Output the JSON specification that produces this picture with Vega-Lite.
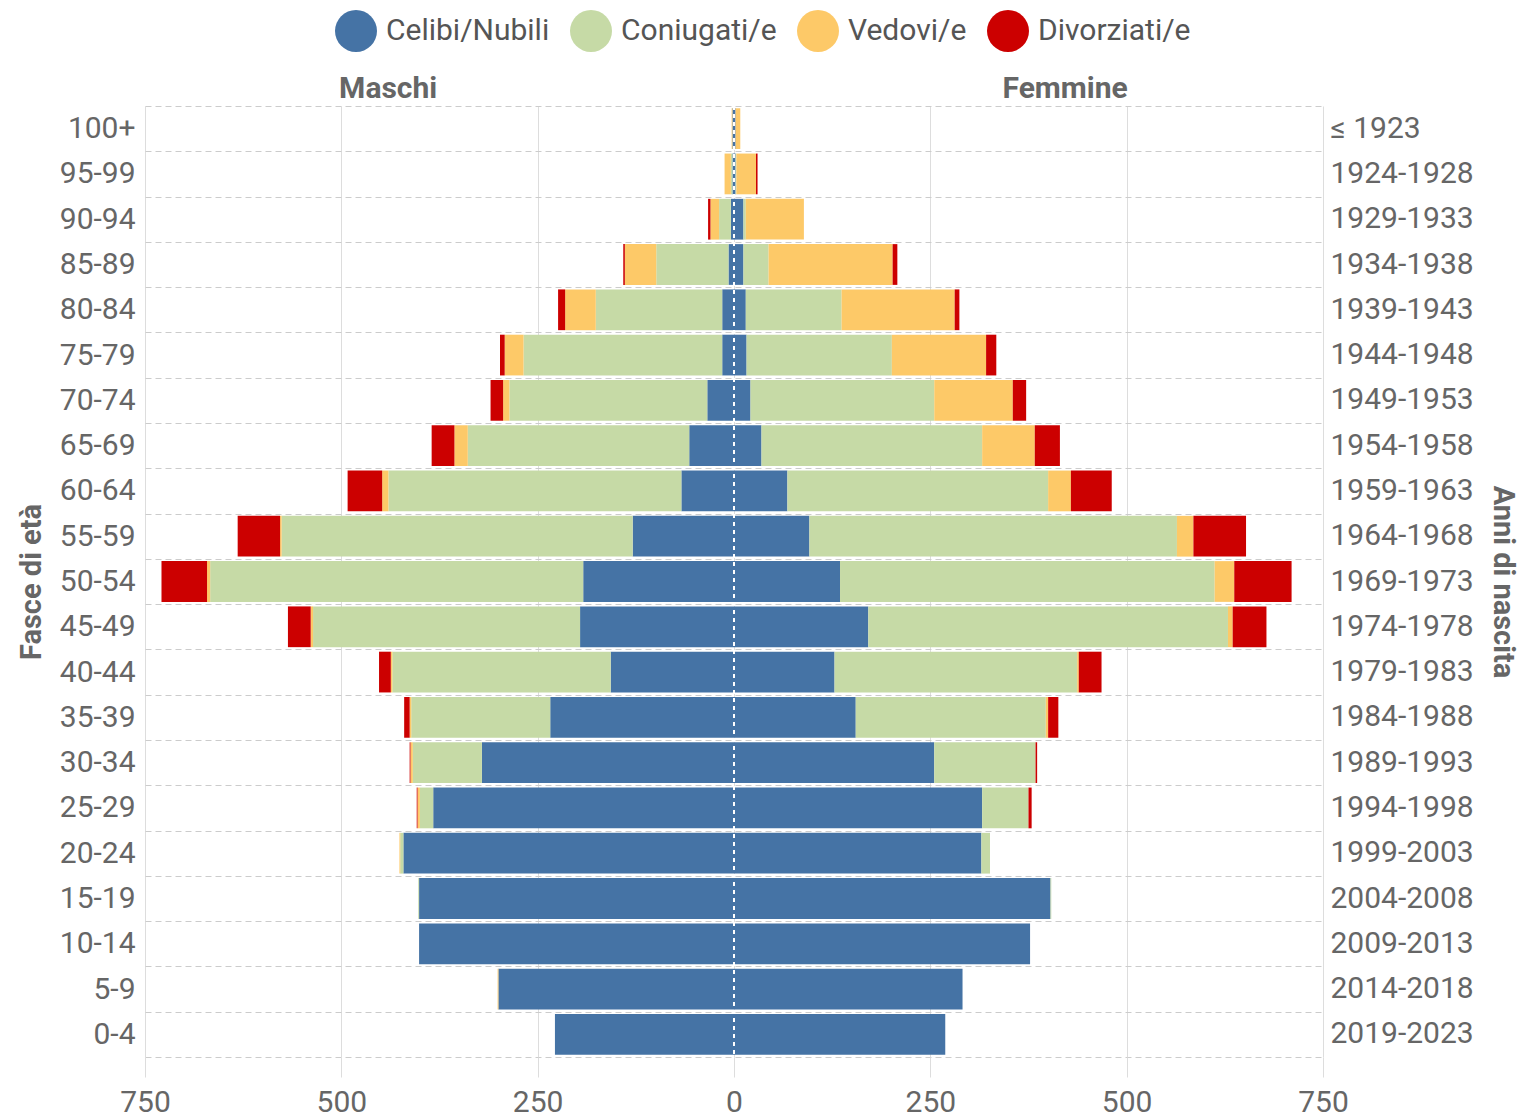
{
  "$schema": "https://vega.github.io/schema/vega-lite/v6.json",
  "width": 1178,
  "height": 951,
  "autosize": {"type": "none"},
  "padding": {"left": 145, "top": 106, "right": 201, "bottom": 61},
  "background": "white",
  "config": {
    "font": "Roboto",
    "view": {"stroke": null},
    "axis": {"labelFont": "Roboto", "titleFont": "Roboto", "labelColor": "#666", "titleColor": "#666"},
    "legend": {"labelFont": "Roboto"}
  },
  "data": {
    "values": [
      {"eta": "100+", "sesso": "M", "stato": "Celibi/Nubili", "o": 1, "n": -2},
      {"eta": "100+", "sesso": "M", "stato": "Vedovi/e", "o": 3, "n": -1},
      {"eta": "95-99", "sesso": "M", "stato": "Celibi/Nubili", "o": 1, "n": -2},
      {"eta": "95-99", "sesso": "M", "stato": "Coniugati/e", "o": 2, "n": -2},
      {"eta": "95-99", "sesso": "M", "stato": "Vedovi/e", "o": 3, "n": -8},
      {"eta": "90-94", "sesso": "M", "stato": "Celibi/Nubili", "o": 1, "n": -4},
      {"eta": "90-94", "sesso": "M", "stato": "Coniugati/e", "o": 2, "n": -15},
      {"eta": "90-94", "sesso": "M", "stato": "Vedovi/e", "o": 3, "n": -11},
      {"eta": "90-94", "sesso": "M", "stato": "Divorziati/e", "o": 4, "n": -3},
      {"eta": "85-89", "sesso": "M", "stato": "Celibi/Nubili", "o": 1, "n": -7},
      {"eta": "85-89", "sesso": "M", "stato": "Coniugati/e", "o": 2, "n": -92},
      {"eta": "85-89", "sesso": "M", "stato": "Vedovi/e", "o": 3, "n": -40},
      {"eta": "85-89", "sesso": "M", "stato": "Divorziati/e", "o": 4, "n": -2},
      {"eta": "80-84", "sesso": "M", "stato": "Celibi/Nubili", "o": 1, "n": -15},
      {"eta": "80-84", "sesso": "M", "stato": "Coniugati/e", "o": 2, "n": -161},
      {"eta": "80-84", "sesso": "M", "stato": "Vedovi/e", "o": 3, "n": -39},
      {"eta": "80-84", "sesso": "M", "stato": "Divorziati/e", "o": 4, "n": -9},
      {"eta": "75-79", "sesso": "M", "stato": "Celibi/Nubili", "o": 1, "n": -15},
      {"eta": "75-79", "sesso": "M", "stato": "Coniugati/e", "o": 2, "n": -253},
      {"eta": "75-79", "sesso": "M", "stato": "Vedovi/e", "o": 3, "n": -24},
      {"eta": "75-79", "sesso": "M", "stato": "Divorziati/e", "o": 4, "n": -6},
      {"eta": "70-74", "sesso": "M", "stato": "Celibi/Nubili", "o": 1, "n": -34},
      {"eta": "70-74", "sesso": "M", "stato": "Coniugati/e", "o": 2, "n": -252},
      {"eta": "70-74", "sesso": "M", "stato": "Vedovi/e", "o": 3, "n": -8},
      {"eta": "70-74", "sesso": "M", "stato": "Divorziati/e", "o": 4, "n": -16},
      {"eta": "65-69", "sesso": "M", "stato": "Celibi/Nubili", "o": 1, "n": -57},
      {"eta": "65-69", "sesso": "M", "stato": "Coniugati/e", "o": 2, "n": -282},
      {"eta": "65-69", "sesso": "M", "stato": "Vedovi/e", "o": 3, "n": -17},
      {"eta": "65-69", "sesso": "M", "stato": "Divorziati/e", "o": 4, "n": -29},
      {"eta": "60-64", "sesso": "M", "stato": "Celibi/Nubili", "o": 1, "n": -67},
      {"eta": "60-64", "sesso": "M", "stato": "Coniugati/e", "o": 2, "n": -373},
      {"eta": "60-64", "sesso": "M", "stato": "Vedovi/e", "o": 3, "n": -8},
      {"eta": "60-64", "sesso": "M", "stato": "Divorziati/e", "o": 4, "n": -44},
      {"eta": "55-59", "sesso": "M", "stato": "Celibi/Nubili", "o": 1, "n": -129},
      {"eta": "55-59", "sesso": "M", "stato": "Coniugati/e", "o": 2, "n": -447},
      {"eta": "55-59", "sesso": "M", "stato": "Vedovi/e", "o": 3, "n": -2},
      {"eta": "55-59", "sesso": "M", "stato": "Divorziati/e", "o": 4, "n": -54},
      {"eta": "50-54", "sesso": "M", "stato": "Celibi/Nubili", "o": 1, "n": -192},
      {"eta": "50-54", "sesso": "M", "stato": "Coniugati/e", "o": 2, "n": -475},
      {"eta": "50-54", "sesso": "M", "stato": "Vedovi/e", "o": 3, "n": -4},
      {"eta": "50-54", "sesso": "M", "stato": "Divorziati/e", "o": 4, "n": -58},
      {"eta": "45-49", "sesso": "M", "stato": "Celibi/Nubili", "o": 1, "n": -196},
      {"eta": "45-49", "sesso": "M", "stato": "Coniugati/e", "o": 2, "n": -340},
      {"eta": "45-49", "sesso": "M", "stato": "Vedovi/e", "o": 3, "n": -3},
      {"eta": "45-49", "sesso": "M", "stato": "Divorziati/e", "o": 4, "n": -29},
      {"eta": "40-44", "sesso": "M", "stato": "Celibi/Nubili", "o": 1, "n": -157},
      {"eta": "40-44", "sesso": "M", "stato": "Coniugati/e", "o": 2, "n": -278},
      {"eta": "40-44", "sesso": "M", "stato": "Vedovi/e", "o": 3, "n": -2},
      {"eta": "40-44", "sesso": "M", "stato": "Divorziati/e", "o": 4, "n": -15},
      {"eta": "35-39", "sesso": "M", "stato": "Celibi/Nubili", "o": 1, "n": -234},
      {"eta": "35-39", "sesso": "M", "stato": "Coniugati/e", "o": 2, "n": -177},
      {"eta": "35-39", "sesso": "M", "stato": "Vedovi/e", "o": 3, "n": -2},
      {"eta": "35-39", "sesso": "M", "stato": "Divorziati/e", "o": 4, "n": -7},
      {"eta": "30-34", "sesso": "M", "stato": "Celibi/Nubili", "o": 1, "n": -321},
      {"eta": "30-34", "sesso": "M", "stato": "Coniugati/e", "o": 2, "n": -88},
      {"eta": "30-34", "sesso": "M", "stato": "Vedovi/e", "o": 3, "n": -3},
      {"eta": "30-34", "sesso": "M", "stato": "Divorziati/e", "o": 4, "n": -1},
      {"eta": "25-29", "sesso": "M", "stato": "Celibi/Nubili", "o": 1, "n": -383},
      {"eta": "25-29", "sesso": "M", "stato": "Coniugati/e", "o": 2, "n": -17},
      {"eta": "25-29", "sesso": "M", "stato": "Vedovi/e", "o": 3, "n": -3},
      {"eta": "25-29", "sesso": "M", "stato": "Divorziati/e", "o": 4, "n": -1},
      {"eta": "20-24", "sesso": "M", "stato": "Celibi/Nubili", "o": 1, "n": -421},
      {"eta": "20-24", "sesso": "M", "stato": "Coniugati/e", "o": 2, "n": -4},
      {"eta": "20-24", "sesso": "M", "stato": "Vedovi/e", "o": 3, "n": -1},
      {"eta": "15-19", "sesso": "M", "stato": "Celibi/Nubili", "o": 1, "n": -401},
      {"eta": "15-19", "sesso": "M", "stato": "Coniugati/e", "o": 2, "n": -1},
      {"eta": "10-14", "sesso": "M", "stato": "Celibi/Nubili", "o": 1, "n": -401},
      {"eta": "5-9", "sesso": "M", "stato": "Celibi/Nubili", "o": 1, "n": -300},
      {"eta": "5-9", "sesso": "M", "stato": "Vedovi/e", "o": 3, "n": -1},
      {"eta": "0-4", "sesso": "M", "stato": "Celibi/Nubili", "o": 1, "n": -228},
      {"eta": "100+", "sesso": "F", "stato": "Celibi/Nubili", "o": 1, "n": 2},
      {"eta": "100+", "sesso": "F", "stato": "Vedovi/e", "o": 3, "n": 6},
      {"eta": "95-99", "sesso": "F", "stato": "Celibi/Nubili", "o": 1, "n": 2},
      {"eta": "95-99", "sesso": "F", "stato": "Coniugati/e", "o": 2, "n": 1},
      {"eta": "95-99", "sesso": "F", "stato": "Vedovi/e", "o": 3, "n": 25},
      {"eta": "95-99", "sesso": "F", "stato": "Divorziati/e", "o": 4, "n": 2},
      {"eta": "90-94", "sesso": "F", "stato": "Celibi/Nubili", "o": 1, "n": 12},
      {"eta": "90-94", "sesso": "F", "stato": "Coniugati/e", "o": 2, "n": 3},
      {"eta": "90-94", "sesso": "F", "stato": "Vedovi/e", "o": 3, "n": 74},
      {"eta": "85-89", "sesso": "F", "stato": "Celibi/Nubili", "o": 1, "n": 12},
      {"eta": "85-89", "sesso": "F", "stato": "Coniugati/e", "o": 2, "n": 32},
      {"eta": "85-89", "sesso": "F", "stato": "Vedovi/e", "o": 3, "n": 158},
      {"eta": "85-89", "sesso": "F", "stato": "Divorziati/e", "o": 4, "n": 6},
      {"eta": "80-84", "sesso": "F", "stato": "Celibi/Nubili", "o": 1, "n": 15},
      {"eta": "80-84", "sesso": "F", "stato": "Coniugati/e", "o": 2, "n": 122},
      {"eta": "80-84", "sesso": "F", "stato": "Vedovi/e", "o": 3, "n": 144},
      {"eta": "80-84", "sesso": "F", "stato": "Divorziati/e", "o": 4, "n": 6},
      {"eta": "75-79", "sesso": "F", "stato": "Celibi/Nubili", "o": 1, "n": 16},
      {"eta": "75-79", "sesso": "F", "stato": "Coniugati/e", "o": 2, "n": 185},
      {"eta": "75-79", "sesso": "F", "stato": "Vedovi/e", "o": 3, "n": 120},
      {"eta": "75-79", "sesso": "F", "stato": "Divorziati/e", "o": 4, "n": 13},
      {"eta": "70-74", "sesso": "F", "stato": "Celibi/Nubili", "o": 1, "n": 21},
      {"eta": "70-74", "sesso": "F", "stato": "Coniugati/e", "o": 2, "n": 234},
      {"eta": "70-74", "sesso": "F", "stato": "Vedovi/e", "o": 3, "n": 100},
      {"eta": "70-74", "sesso": "F", "stato": "Divorziati/e", "o": 4, "n": 17},
      {"eta": "65-69", "sesso": "F", "stato": "Celibi/Nubili", "o": 1, "n": 35},
      {"eta": "65-69", "sesso": "F", "stato": "Coniugati/e", "o": 2, "n": 281},
      {"eta": "65-69", "sesso": "F", "stato": "Vedovi/e", "o": 3, "n": 67},
      {"eta": "65-69", "sesso": "F", "stato": "Divorziati/e", "o": 4, "n": 32},
      {"eta": "60-64", "sesso": "F", "stato": "Celibi/Nubili", "o": 1, "n": 68},
      {"eta": "60-64", "sesso": "F", "stato": "Coniugati/e", "o": 2, "n": 332},
      {"eta": "60-64", "sesso": "F", "stato": "Vedovi/e", "o": 3, "n": 29},
      {"eta": "60-64", "sesso": "F", "stato": "Divorziati/e", "o": 4, "n": 52},
      {"eta": "55-59", "sesso": "F", "stato": "Celibi/Nubili", "o": 1, "n": 96},
      {"eta": "55-59", "sesso": "F", "stato": "Coniugati/e", "o": 2, "n": 468},
      {"eta": "55-59", "sesso": "F", "stato": "Vedovi/e", "o": 3, "n": 21},
      {"eta": "55-59", "sesso": "F", "stato": "Divorziati/e", "o": 4, "n": 67},
      {"eta": "50-54", "sesso": "F", "stato": "Celibi/Nubili", "o": 1, "n": 135},
      {"eta": "50-54", "sesso": "F", "stato": "Coniugati/e", "o": 2, "n": 477},
      {"eta": "50-54", "sesso": "F", "stato": "Vedovi/e", "o": 3, "n": 25},
      {"eta": "50-54", "sesso": "F", "stato": "Divorziati/e", "o": 4, "n": 73},
      {"eta": "45-49", "sesso": "F", "stato": "Celibi/Nubili", "o": 1, "n": 171},
      {"eta": "45-49", "sesso": "F", "stato": "Coniugati/e", "o": 2, "n": 458},
      {"eta": "45-49", "sesso": "F", "stato": "Vedovi/e", "o": 3, "n": 6},
      {"eta": "45-49", "sesso": "F", "stato": "Divorziati/e", "o": 4, "n": 43},
      {"eta": "40-44", "sesso": "F", "stato": "Celibi/Nubili", "o": 1, "n": 128},
      {"eta": "40-44", "sesso": "F", "stato": "Coniugati/e", "o": 2, "n": 309},
      {"eta": "40-44", "sesso": "F", "stato": "Vedovi/e", "o": 3, "n": 2},
      {"eta": "40-44", "sesso": "F", "stato": "Divorziati/e", "o": 4, "n": 29},
      {"eta": "35-39", "sesso": "F", "stato": "Celibi/Nubili", "o": 1, "n": 155},
      {"eta": "35-39", "sesso": "F", "stato": "Coniugati/e", "o": 2, "n": 242},
      {"eta": "35-39", "sesso": "F", "stato": "Vedovi/e", "o": 3, "n": 3},
      {"eta": "35-39", "sesso": "F", "stato": "Divorziati/e", "o": 4, "n": 13},
      {"eta": "30-34", "sesso": "F", "stato": "Celibi/Nubili", "o": 1, "n": 255},
      {"eta": "30-34", "sesso": "F", "stato": "Coniugati/e", "o": 2, "n": 129},
      {"eta": "30-34", "sesso": "F", "stato": "Divorziati/e", "o": 4, "n": 2},
      {"eta": "25-29", "sesso": "F", "stato": "Celibi/Nubili", "o": 1, "n": 316},
      {"eta": "25-29", "sesso": "F", "stato": "Coniugati/e", "o": 2, "n": 59},
      {"eta": "25-29", "sesso": "F", "stato": "Divorziati/e", "o": 4, "n": 4},
      {"eta": "20-24", "sesso": "F", "stato": "Celibi/Nubili", "o": 1, "n": 315},
      {"eta": "20-24", "sesso": "F", "stato": "Coniugati/e", "o": 2, "n": 11},
      {"eta": "15-19", "sesso": "F", "stato": "Celibi/Nubili", "o": 1, "n": 403},
      {"eta": "15-19", "sesso": "F", "stato": "Coniugati/e", "o": 2, "n": 1},
      {"eta": "10-14", "sesso": "F", "stato": "Celibi/Nubili", "o": 1, "n": 377},
      {"eta": "5-9", "sesso": "F", "stato": "Celibi/Nubili", "o": 1, "n": 291},
      {"eta": "0-4", "sesso": "F", "stato": "Celibi/Nubili", "o": 1, "n": 269}
    ]
  },
  "layer": [
    {
      "mark": {"type": "bar", "height": {"band": 0.9}},
      "encoding": {
        "y": {
          "field": "eta", "type": "nominal",
          "sort": ["100+", "95-99", "90-94", "85-89", "80-84", "75-79", "70-74", "65-69", "60-64", "55-59", "50-54", "45-49", "40-44", "35-39", "30-34", "25-29", "20-24", "15-19", "10-14", "5-9", "0-4"],
          "scale": {"paddingInner": 0, "paddingOuter": 0},
          "axis": {
            "orient": "left", "title": "Fasce di età", "titleFontSize": 29, "titleFontWeight": "bold", "titlePadding": 13,
            "labelFontSize": 30, "labelPadding": 10, "ticks": false, "domain": false,
            "grid": true, "gridDash": [6, 4], "gridColor": "#cccccc", "tickBand": "extent"
          }
        },
        "x": {
          "field": "n", "type": "quantitative", "stack": "zero",
          "scale": {"domain": [-750, 750], "nice": false},
          "axis": {
            "orient": "bottom", "title": null, "values": [-750, -500, -250, 0, 250, 500, 750],
            "labelExpr": "format(abs(datum.value), 'd')", "labelFontSize": 30, "labelPadding": 10, "labelFlush": false,
            "grid": true, "gridColor": "#dddddd", "tickColor": "#dddddd", "tickSize": 20, "domain": false
          }
        },
        "color": {
          "field": "stato", "type": "nominal",
          "scale": {"domain": ["Celibi/Nubili", "Coniugati/e", "Vedovi/e", "Divorziati/e"], "range": ["#4573a5", "#c6daa6", "#fdc968", "#cc0000"]},
          "legend": {
            "title": null, "orient": "none", "direction": "horizontal", "legendX": 190, "legendY": -96,
            "symbolType": "circle", "symbolSize": 1764, "symbolStrokeWidth": 0,
            "labelFontSize": 30, "labelColor": "#555", "labelOffset": 9, "columnPadding": 20, "labelLimit": 400
          }
        },
        "order": {"field": "o", "sort": "ascending"}
      }
    },
    {
      "data": {"values": [{}]},
      "mark": {"type": "rule", "color": "white", "strokeWidth": 2, "strokeDash": [4, 4]},
      "encoding": {"x": {"datum": 0, "type": "quantitative", "axis": null}}
    },
    {
      "mark": {"type": "bar", "opacity": 0},
      "encoding": {
        "y": {
          "field": "eta", "type": "nominal",
          "sort": ["100+", "95-99", "90-94", "85-89", "80-84", "75-79", "70-74", "65-69", "60-64", "55-59", "50-54", "45-49", "40-44", "35-39", "30-34", "25-29", "20-24", "15-19", "10-14", "5-9", "0-4"],
          "axis": {
            "orient": "right", "title": "Anni di nascita", "titleFontSize": 29, "titleFontWeight": "bold", "titlePadding": 14,
            "labelFontSize": 30, "labelPadding": 7, "ticks": false, "domain": false, "grid": false,
            "labelExpr": "['≤ 1923','1924-1928','1929-1933','1934-1938','1939-1943','1944-1948','1949-1953','1954-1958','1959-1963','1964-1968','1969-1973','1974-1978','1979-1983','1984-1988','1989-1993','1994-1998','1999-2003','2004-2008','2009-2013','2014-2018','2019-2023'][indexof(['100+','95-99','90-94','85-89','80-84','75-79','70-74','65-69','60-64','55-59','50-54','45-49','40-44','35-39','30-34','25-29','20-24','15-19','10-14','5-9','0-4'], datum.value)]"
          }
        },
        "x": {
          "field": "n", "type": "quantitative",
          "axis": {
            "orient": "top", "title": null, "values": [-441, 421],
            "labelExpr": "datum.value < 0 ? 'Maschi' : 'Femmine'",
            "labelFontSize": 30, "labelFontWeight": "bold", "labelPadding": 3,
            "ticks": false, "domain": false, "grid": false
          }
        }
      }
    }
  ],
  "resolve": {"axis": {"x": "independent", "y": "independent"}}
}
